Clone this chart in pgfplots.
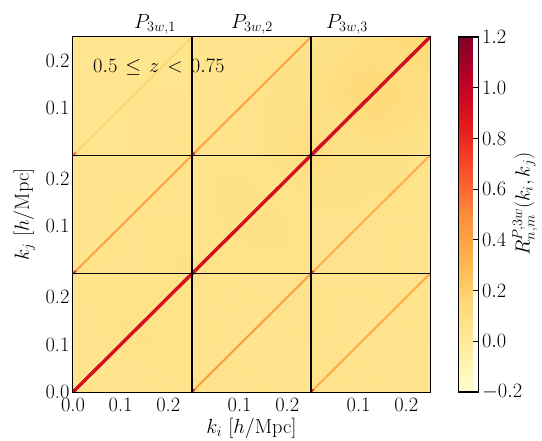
\RequirePackage{fix-cm}
\documentclass[border=0pt]{standalone}
\usepackage{pgfplots}
\pgfplotsset{compat=1.18}
\pgfplotsset{colormap={ylorrd}{rgb255=(255,255,204) rgb255=(255,237,160) rgb255=(254,217,118) rgb255=(254,178,76) rgb255=(253,141,60) rgb255=(252,78,42) rgb255=(227,26,28) rgb255=(189,0,38) rgb255=(128,0,38)}}
\tikzset{every node/.append style={font=\fontsize{20.5}{24}\selectfont}}
\pgfplotstableread{
x y c
0 0 0.06
0.125 0 0.05
0.25 0 0.06
0.375 0 0.06
0.5 0 0.05
0.625 0 0.06
0.75 0 0.05
0 0.125 0.05
0.125 0.125 0.07
0.25 0.125 0.06
0.375 0.125 0.05
0.5 0.125 0.06
0.625 0.125 0.05
0.75 0.125 0.06
0 0.25 0.06
0.125 0.25 0.06
0.25 0.25 0.07
0.375 0.25 0.06
0.5 0.25 0.06
0.625 0.25 0.06
0.75 0.25 0.05
0 0.375 0.05
0.125 0.375 0.06
0.25 0.375 0.06
0.375 0.375 0.08
0.5 0.375 0.06
0.625 0.375 0.06
0.75 0.375 0.06
0 0.5 0.05
0.125 0.5 0.05
0.25 0.5 0.06
0.375 0.5 0.06
0.5 0.5 0.11
0.625 0.5 0.08
0.75 0.5 0.06
0 0.625 0.04
0.125 0.625 0.05
0.25 0.625 0.05
0.375 0.625 0.06
0.5 0.625 0.09
0.625 0.625 0.15
0.75 0.625 0.10
0 0.75 0.04
0.125 0.75 0.04
0.25 0.75 0.05
0.375 0.75 0.05
0.5 0.75 0.06
0.625 0.75 0.10
0.75 0.75 0.16
}\bgtable
\begin{document}
\begin{tikzpicture}
\begin{axis}[
  scale only axis, width=357bp, height=355bp,
  xmin=0, xmax=0.75, ymin=0, ymax=0.75,
  xtick={0,0.1,0.2,0.35,0.45,0.6,0.7},
  xticklabels={0.0,0.1,0.2,0.1,0.2,0.1,0.2},
  ytick={0,0.1,0.2,0.35,0.45,0.6,0.7},
  yticklabels={0.0,0.1,0.2,0.1,0.2,0.1,0.2},
  xticklabel style={yshift=-2bp},
  tick align=inside, major tick length=6bp,
  tick style={black, line width=0.9bp},
  axis line style={line width=1.5bp},
  xlabel={$k_i\ [h/\mathrm{Mpc}]$},
  ylabel={$k_j\ [h/\mathrm{Mpc}]$},
  xlabel shift=0bp, ylabel shift=4bp,
  colormap name=ylorrd,
  point meta min=-0.2, point meta max=1.2,
  colorbar,
  colorbar style={
    at={(parent axis.north east)}, anchor=north west, xshift=20bp,
    width=20bp,
    ytick={-0.2,0,0.2,0.4,0.6,0.8,1.0,1.2},
    yticklabel style={/pgf/number format/.cd, fixed, fixed zerofill, precision=1},
    ytick pos=right, yticklabel pos=right,
    tick align=inside, major tick length=6bp,
    tick style={black, line width=0.9bp},
    axis line style={line width=1.5bp},
  },
  clip mode=individual,
]
\addplot[surf, shader=interp, mesh/cols=7, mesh/ordering=x varies, point meta=explicit] table[x=x, y=y, meta=c] {\bgtable};
% strong diagonals
\addplot[mesh, shader=flat corner, line width=3.4bp, point meta=explicit] coordinates {(0,0) [1.0] (0.006,0.006) [0.92] (0.25,0.25) [0.92]};
\addplot[mesh, shader=flat corner, line width=3.4bp, point meta=explicit] coordinates {(0.25,0.25) [1.0] (0.256,0.256) [0.92] (0.5,0.5) [0.92]};
\addplot[mesh, shader=flat corner, line width=3.4bp, point meta=explicit] coordinates {(0.5,0.5) [1.0] (0.506,0.506) [0.93] (0.75,0.75) [0.93]};
% weaker diagonals
\addplot[mesh, shader=flat corner, line width=2.0bp, point meta=explicit] coordinates {(0.25,0) [0.85] (0.256,0.006) [0.42] (0.5,0.25) [0.42]};
\addplot[mesh, shader=flat corner, line width=2.0bp, point meta=explicit] coordinates {(0.5,0) [0.8] (0.506,0.006) [0.36] (0.75,0.25) [0.36]};
\addplot[mesh, shader=flat corner, line width=2.0bp, point meta=explicit] coordinates {(0,0.25) [0.85] (0.006,0.256) [0.4] (0.25,0.5) [0.4]};
\addplot[mesh, shader=flat corner, line width=2.0bp, point meta=explicit] coordinates {(0.5,0.25) [0.8] (0.506,0.256) [0.36] (0.75,0.5) [0.36]};
\addplot[mesh, shader=flat corner, line width=2.0bp, point meta=explicit] coordinates {(0,0.5) [0.6] (0.006,0.506) [0.17] (0.25,0.75) [0.17]};
\addplot[mesh, shader=flat corner, line width=2.0bp, point meta=explicit] coordinates {(0.25,0.5) [0.8] (0.256,0.506) [0.4] (0.5,0.75) [0.4]};
% block separators
\addplot[black, line width=1.4bp] coordinates {(0.25,0) (0.25,0.75)};
\addplot[black, line width=1.4bp] coordinates {(0.5,0) (0.5,0.75)};
\addplot[black, line width=1.4bp] coordinates {(0,0.25) (0.75,0.25)};
\addplot[black, line width=1.4bp] coordinates {(0,0.5) (0.75,0.5)};
\node[anchor=base] at ([yshift=9bp]rel axis cs:0.2297,1) {$P_{3w,1}$};
\node[anchor=base] at ([yshift=9bp]rel axis cs:0.5014,1) {$P_{3w,2}$};
\node[anchor=base] at ([yshift=9bp]rel axis cs:0.7675,1) {$P_{3w,3}$};
\node[anchor=base west, inner sep=0pt] at (rel axis cs:0.056,0.9014) {$0.5\mskip2mu\leq\mskip2mu z\mskip2mu<\mskip2mu 0.75$};
\node[rotate=90, inner sep=0pt] at (rel axis cs:1.266,0.53) {$R^{P,3w}_{n,m}(k_i,k_j)$};
\end{axis}
\pgfresetboundingbox
\path (-73bp,-49bp) rectangle (469bp,392bp);
\end{tikzpicture}
\end{document}
